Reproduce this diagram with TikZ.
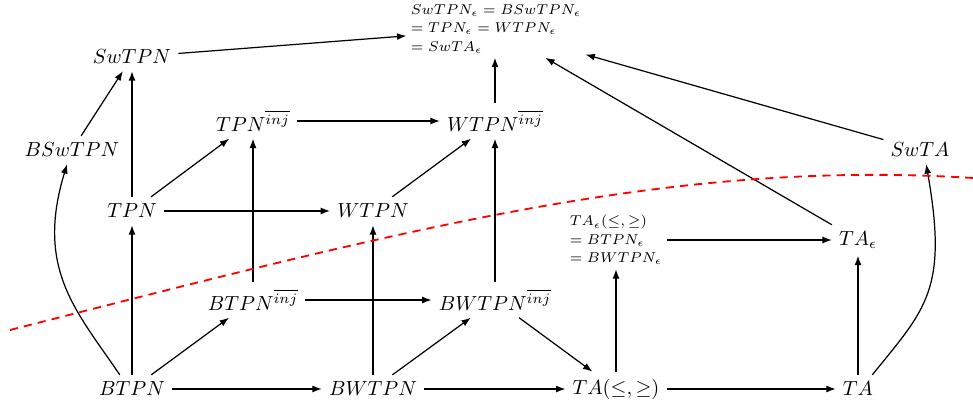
\documentclass[tikz,border=0pt]{standalone}
\usetikzlibrary{arrows.meta}
\begin{document}
\begin{tikzpicture}[x=0.49pt,y=-0.49pt,
  ar/.style={-{Latex[length=4.6pt,width=3.4pt]}, line width=0.6pt},
  blk/.style={align=left, font=\scriptsize, inner sep=2pt}]
\useasboundingbox (0,0) rectangle (973,406);
% nodes
\node (swtpn) at (132,57) {$SwTPN$};
\node (bswtpn) at (72,150) {$BSwTPN$};
\node (tpn) at (132,211) {$TPN$};
\node (tpninj) at (253,121) {$TPN^{\overline{inj}}$};
\node (wtpninj) at (495,121) {$WTPN^{\overline{inj}}$};
\node (wtpn) at (373,211) {$WTPN$};
\node (btpninj) at (253,300) {$BTPN^{\overline{inj}}$};
\node (bwtpninj) at (495,300) {$BWTPN^{\overline{inj}}$};
\node (btpn) at (132,389) {$BTPN$};
\node (bwtpn) at (373,389) {$BWTPN$};
\node (tale) at (616,389) {$TA(\leq,\geq)$};
\node (ta) at (858,389) {$TA$};
\node (tae) at (858,240) {$TA_\epsilon$};
\node (swta) at (920,150) {$SwTA$};
\node[blk] (taele) at (616,240) {$TA_\epsilon(\leq,\geq)$\\[1pt]$=BTPN_\epsilon$\\[1pt]$=BWTPN_\epsilon$};
\node[blk] (top) at (496,29) {$SwTPN_\epsilon=BSwTPN_\epsilon$\\[1pt]$=TPN_\epsilon=WTPN_\epsilon$\\[1pt]$=SwTA_\epsilon$};
% connectors
\draw[ar] (btpn) -- (bwtpn);
\draw[ar] (bwtpn) -- (tale);
\draw[ar] (tale) -- (ta);
\draw[ar] (btpn) -- (tpn);
\draw[ar] (tpn) -- (swtpn);
\draw[ar] (btpn) -- (btpninj);
\draw[ar] (btpninj) -- (tpninj);
\draw[ar] (tpn) -- (tpninj);
\draw[ar] (tpn) -- (wtpn);
\draw[ar] (tpninj) -- (wtpninj);
\draw[ar] (btpninj) -- (bwtpninj);
\draw[ar] (bwtpn) -- (wtpn);
\draw[ar] (bwtpn) -- (bwtpninj);
\draw[ar] (bwtpninj) -- (wtpninj);
\draw[ar] (wtpn) -- (wtpninj);
\draw[ar] (wtpninj) -- (wtpninj |- top.south);
\draw[ar] (bwtpninj) -- (tale);
\draw[ar] (tale) -- (taele);
\draw[ar] (ta) -- (tae);
\draw[ar] (taele) -- (tae);
\draw[ar] (tae) -- (top);
\draw[ar] (swta) -- (top);
\draw[ar] (swtpn) -- (top);
\draw[ar] (bswtpn) -- (swtpn);
\draw[ar] ([xshift=-6pt]btpn.north) to[out=124,in=-107,out looseness=0.9,in looseness=1.3] ([xshift=-2.4pt]bswtpn.south);
\draw[ar] ([xshift=7pt]ta.north) to[out=51,in=-80,out looseness=1,in looseness=1.5] ([xshift=3pt]swta.south);
% red dashed line
\draw[red, line width=0.9pt, dash pattern=on 4pt off 3pt]
  (10,330) .. controls (410,228) and (673,159) .. (973,178);
\end{tikzpicture}
\end{document}
